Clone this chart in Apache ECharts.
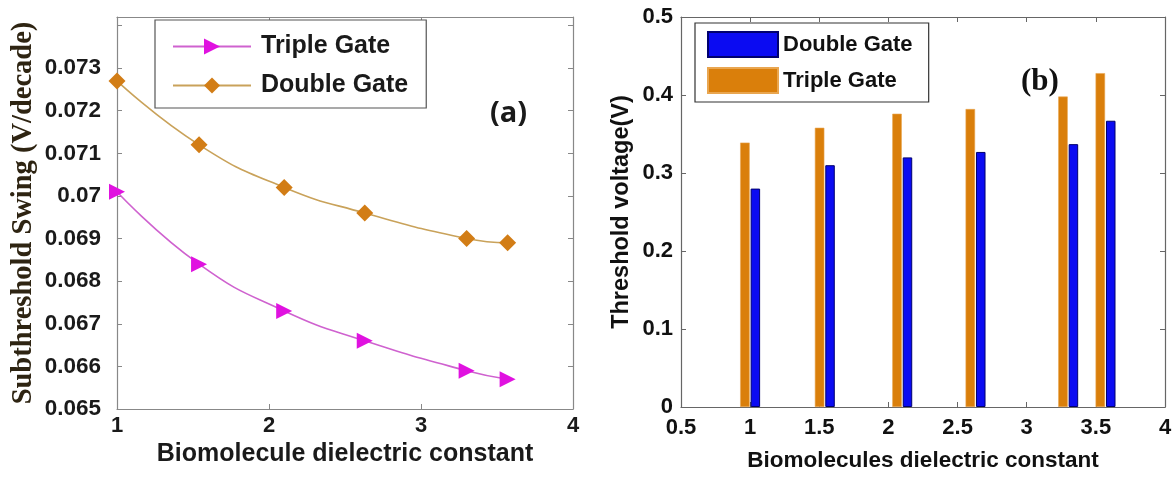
<!DOCTYPE html>
<html>
<head>
<meta charset="utf-8">
<script src="https://cdn.jsdelivr.net/npm/echarts@6/dist/echarts.min.js"></script>
<style>
html,body{margin:0;padding:0;background:#fff;}
#chart{width:1175px;height:477px;}
</style>
</head>
<body>
<div id="chart"></div>
<script>
// ---- data ----
const dielectricX = [1.0, 1.54, 2.1, 2.63, 3.3, 3.57];
const ssTriple = [0.0701, 0.0684, 0.0673, 0.0666, 0.0659, 0.0657];
const ssDouble = [0.0727, 0.0712, 0.0702, 0.0696, 0.0690, 0.0689];
const vthDouble = [0.280, 0.310, 0.320, 0.327, 0.337, 0.367];
const vthTriple = [0.339, 0.358, 0.376, 0.382, 0.398, 0.428];
const seriesNames = ['Triple Gate', 'Double Gate'];

const pair = (xs, ys) => xs.map((x, i) => [x, ys[i]]);
const SANS = 'Liberation Sans';
const SERIF = 'Liberation Serif';

const chart = echarts.init(document.getElementById('chart'), null, {renderer: 'canvas'});

function boxAxis(grid, pos, min, max, interval, color) {
  return {
    type: 'value', gridIndex: grid, position: pos, min: min, max: max, interval: interval,
    axisLine: {show: true, onZero: false, lineStyle: {color: color, width: 1.2}},
    axisTick: {show: true, inside: true, length: 5, lineStyle: {color: color}},
    axisLabel: {show: false}, splitLine: {show: false}
  };
}

const option = {
  animation: false,
  backgroundColor: '#ffffff',
  grid: [
    {left: 117, top: 17, width: 456, height: 392},
    {left: 681, top: 17, width: 484, height: 395}
  ],
  xAxis: [
    {
      type: 'value', gridIndex: 0, position: 'bottom', min: 1, max: 4, interval: 1,
      name: 'Biomolecule dielectric constant', nameLocation: 'middle', nameGap: 32,
      nameTextStyle: {fontFamily: SANS, fontWeight: 'bold', fontSize: 25, color: '#1a1a1a'},
      axisLine: {show: true, onZero: false, lineStyle: {color: '#888', width: 1.2}},
      axisTick: {show: true, inside: true, length: 5, lineStyle: {color: '#888'}},
      axisLabel: {fontFamily: SANS, fontWeight: 'bold', fontSize: 22, color: '#1a1a1a', margin: 6},
      splitLine: {show: false}
    },
    boxAxis(0, 'top', 1, 4, 1, '#888'),
    {
      type: 'value', gridIndex: 1, position: 'bottom', min: 0.5, max: 4, interval: 0.5,
      name: 'Biomolecules dielectric constant', nameLocation: 'middle', nameGap: 42,
      nameTextStyle: {fontFamily: SANS, fontWeight: 'bold', fontSize: 22.5, color: '#111'},
      axisLine: {show: true, onZero: false, lineStyle: {color: '#666', width: 1.2}},
      axisTick: {show: true, inside: true, length: 5, lineStyle: {color: '#666'}},
      axisLabel: {fontFamily: SANS, fontWeight: 'bold', fontSize: 22, color: '#111', margin: 10,
        formatter: v => String(+v.toFixed(1))},
      splitLine: {show: false}
    },
    boxAxis(1, 'top', 0.5, 4, 0.5, '#666')
  ],
  yAxis: [
    {
      type: 'value', gridIndex: 0, position: 'left', min: 0.065, max: 0.0742, interval: 0.001,
      name: 'Subthreshold Swing (V/decade)', nameLocation: 'middle', nameGap: 79, nameRotate: 90,
      nameTextStyle: {fontFamily: SERIF, fontWeight: 'bold', fontSize: 28.5, color: '#2e2412'},
      axisLine: {show: true, onZero: false, lineStyle: {color: '#888', width: 1.2}},
      axisTick: {show: true, inside: true, length: 5, lineStyle: {color: '#888'}},
      axisLabel: {fontFamily: SANS, fontWeight: 'bold', fontSize: 22.5, color: '#1a1a1a', margin: 16,
        showMaxLabel: false,
        formatter: v => (v > 0.0735 ? '' : String(+v.toFixed(3)))},
      splitLine: {show: false}
    },
    boxAxis(0, 'right', 0.065, 0.0742, 0.001, '#888'),
    {
      type: 'value', gridIndex: 1, position: 'left', min: 0, max: 0.5, interval: 0.1,
      name: 'Threshold voltage(V)', nameLocation: 'middle', nameGap: 47, nameRotate: 90,
      nameTextStyle: {fontFamily: SANS, fontWeight: 'bold', fontSize: 23.5, color: '#111'},
      axisLine: {show: true, onZero: false, lineStyle: {color: '#666', width: 1.2}},
      axisTick: {show: true, inside: true, length: 5, lineStyle: {color: '#666'}},
      axisLabel: {fontFamily: SANS, fontWeight: 'bold', fontSize: 22, color: '#111', margin: 8,
        formatter: v => String(+v.toFixed(1))},
      splitLine: {show: false}
    },
    boxAxis(1, 'right', 0, 0.5, 0.1, '#666')
  ],
  legend: [
    {
      data: [seriesNames[0], seriesNames[1]],
      orient: 'vertical', left: 155, top: 20,
      padding: [14, 18, 10, 17], itemGap: 14, itemWidth: 78, itemHeight: 20,
      backgroundColor: '#fff', borderColor: '#555', borderWidth: 1.2, borderRadius: 0,
      textStyle: {fontFamily: SANS, fontWeight: 'bold', fontSize: 25, color: '#1a1a1a', padding: [0, 0, 0, 5]}
    },
    {
      data: [{name: 'Double Gate ', icon: 'rect'}, {name: 'Triple Gate ', icon: 'rect'}],
      orient: 'vertical', left: 695, top: 23,
      padding: [8, 10, 8, 12], itemGap: 9, itemWidth: 70, itemHeight: 25,
      backgroundColor: '#fff', borderColor: '#333', borderWidth: 1.2, borderRadius: 0,
      textStyle: {fontFamily: SANS, fontWeight: 'bold', fontSize: 22, color: '#111'}
    }
  ],
  graphic: [
    {type: 'text', left: 490, top: 99, style: {text: '(a)', font: 'bold 29px "Open Sans", "Liberation Sans"', fill: '#1a1a1a'}},
    {type: 'text', left: 1021, top: 66, style: {text: '(b)', font: 'bold 31px "Liberation Serif"', fill: '#111'}}
  ],
  series: [
    {
      name: seriesNames[0], type: 'line', xAxisIndex: 0, yAxisIndex: 0,
      data: pair(dielectricX, ssTriple), smooth: 0.5,
      symbol: 'triangle', symbolRotate: -90, symbolSize: 16,
      lineStyle: {color: '#cf62cf', width: 1.6},
      itemStyle: {color: '#e012e0'}
    },
    {
      name: seriesNames[1], type: 'line', xAxisIndex: 0, yAxisIndex: 0,
      data: pair(dielectricX, ssDouble), smooth: 0.5,
      symbol: 'diamond', symbolSize: 17,
      lineStyle: {color: '#c9a25a', width: 1.6},
      itemStyle: {color: '#d27d16'}
    },
    {
      name: 'Triple Gate ', type: 'bar', xAxisIndex: 2, yAxisIndex: 2,
      data: pair(dielectricX, vthTriple), barWidth: 9.5, barGap: '10%',
      itemStyle: {color: '#da7f0b', borderColor: '#e9a650', borderWidth: 0.6}
    },
    {
      name: 'Double Gate ', type: 'bar', xAxisIndex: 2, yAxisIndex: 2,
      data: pair(dielectricX, vthDouble), barWidth: 9.5, barGap: '10%',
      itemStyle: {color: '#0b0bf2', borderColor: '#00006e', borderWidth: 1}
    }
  ]
};
chart.setOption(option);
</script>
</body>
</html>
